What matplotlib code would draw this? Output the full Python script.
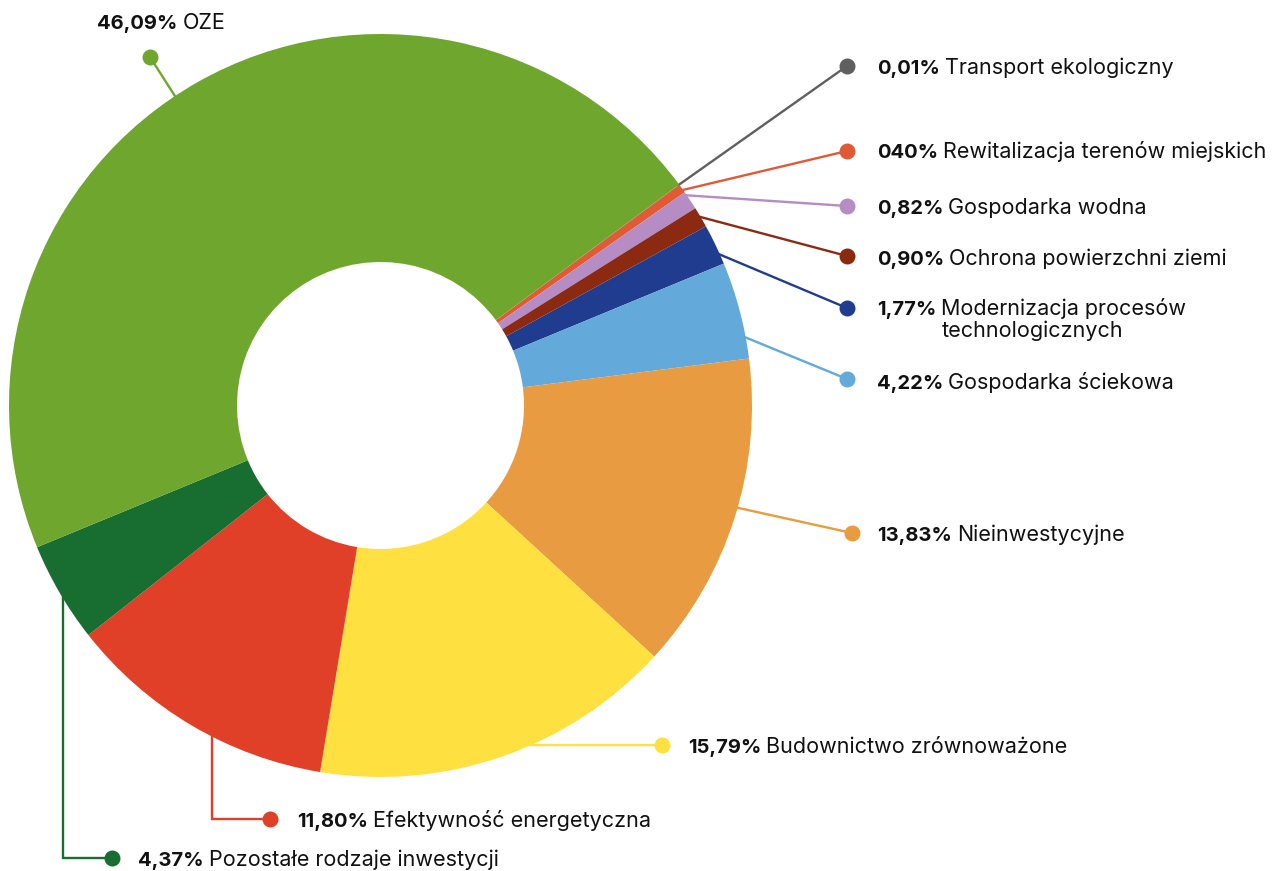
import matplotlib
matplotlib.use("Agg")
import matplotlib.pyplot as plt
import numpy as np

# ---------------- data ----------------
categories = [
    "Transport ekologiczny",
    "Rewitalizacja terenów miejskich",
    "Gospodarka wodna",
    "Ochrona powierzchni ziemi",
    "Modernizacja procesów\ntechnologicznych",
    "Gospodarka ściekowa",
    "Nieinwestycyjne",
    "Budownictwo zrównoważone",
    "Efektywność energetyczna",
    "Pozostałe rodzaje inwestycji",
    "OZE",
]
values = [0.01, 0.40, 0.82, 0.90, 1.77, 4.22, 13.83, 15.79, 11.80, 4.37, 46.09]
pct_labels = ["0,01%", "040%", "0,82%", "0,90%", "1,77%", "4,22%",
              "13,83%", "15,79%", "11,80%", "4,37%", "46,09%"]
colors = ["#5f5f5f", "#e05a36", "#b58cc4", "#8b2a10", "#1f3c8f", "#63a9da",
          "#e89b40", "#fee040", "#e04028", "#176e30", "#6fa62e"]

# ---------------- layout (pixels, y from top) ----------------
W, H = 1279, 871
CX, CY, R, R_IN = 380.5, 405.5, 371.5, 143.5
START_ANGLE = 36.5

# leader: (kind, param, dot_x, dot_y, text_x, text_center_y)
#   kind 'r': straight from outer edge at angle param (deg)
#   kind 'h': horizontal from the outer edge at the dot's height
#   kind 'v': vertical from the outer edge at x=param, then horizontal
leaders = [
    ("r", 36.5, 847, 66, 877, 67),
    ("r", 35.6, 847, 151, 877, 151),
    ("r", 34.7, 847, 206, 877, 207),
    ("r", 30.8, 847, 256, 877, 258),
    ("r", 24.3, 847, 308, 877, 308),
    ("r", 10.75, 847, 379, 877, 382),
    ("r", -16.0, 852, 533, 877, 534),
    ("h", None, 662, 745, 688, 746),
    ("v", 212, 270, 819, 297, 820),
    ("v", 63, 112, 858, 138, 859),
    ("r", 123.6, 150, 57, 97, 22),
]

FONT = ["Inter", "DejaVu Sans"]
FS_B = 14.5
FS_R = 15.5
GAP = 5
BASE_OFF = 7
LINE_H = 22

fig = plt.figure(figsize=(W / 100, H / 100), dpi=100)
ax = fig.add_axes([0, 0, 1, 1])

wedges, _ = ax.pie(values, colors=colors, startangle=START_ANGLE,
                   counterclock=False, radius=R, center=(CX, H - CY),
                   wedgeprops=dict(width=R - R_IN, linewidth=0))
for w in wedges:
    w.set_zorder(2)
ax.set_xlim(0, W)
ax.set_ylim(0, H)
ax.set_aspect("equal")
ax.axis("off")

renderer = fig.canvas.get_renderer()


def Y(y):
    return H - y


for i, (kind, p, dx, dy, tx, ty) in enumerate(leaders):
    col = colors[i]
    if kind == "r":
        a = np.deg2rad(p)
        sx, sy = CX + (R - 2) * np.cos(a), Y(CY) + (R - 2) * np.sin(a)
        xs, ys = [sx, dx], [sy, Y(dy)]
    elif kind == "h":
        off = CY - dy
        sx = CX + np.sqrt(R ** 2 - off ** 2) - 2
        xs, ys = [sx, dx], [Y(dy), Y(dy)]
    else:
        off = p - CX
        sy = Y(CY) - np.sqrt(R ** 2 - off ** 2) + 2
        xs, ys = [p, p, dx], [sy, Y(dy), Y(dy)]
    ax.plot(xs, ys, color=col, lw=1.7, zorder=1, solid_capstyle="butt",
            solid_joinstyle="miter")
    ax.plot([dx], [Y(dy)], "o", color=col, ms=11.5, mec="none", zorder=3)

    base = Y(ty + BASE_OFF)
    t = ax.text(tx, base, pct_labels[i], fontsize=FS_B, fontweight="bold",
                family=FONT, ha="left", va="baseline", color="#111111")
    bb = t.get_window_extent(renderer=renderer)
    x1 = ax.transData.inverted().transform((bb.x1, bb.y1))[0]
    for k, line in enumerate(categories[i].split("\n")):
        ax.text(x1 + GAP, base - k * LINE_H, line, ha="left", va="baseline",
                fontsize=FS_R, family=FONT, color="#111111")

fig.savefig("out.png", dpi=100)
